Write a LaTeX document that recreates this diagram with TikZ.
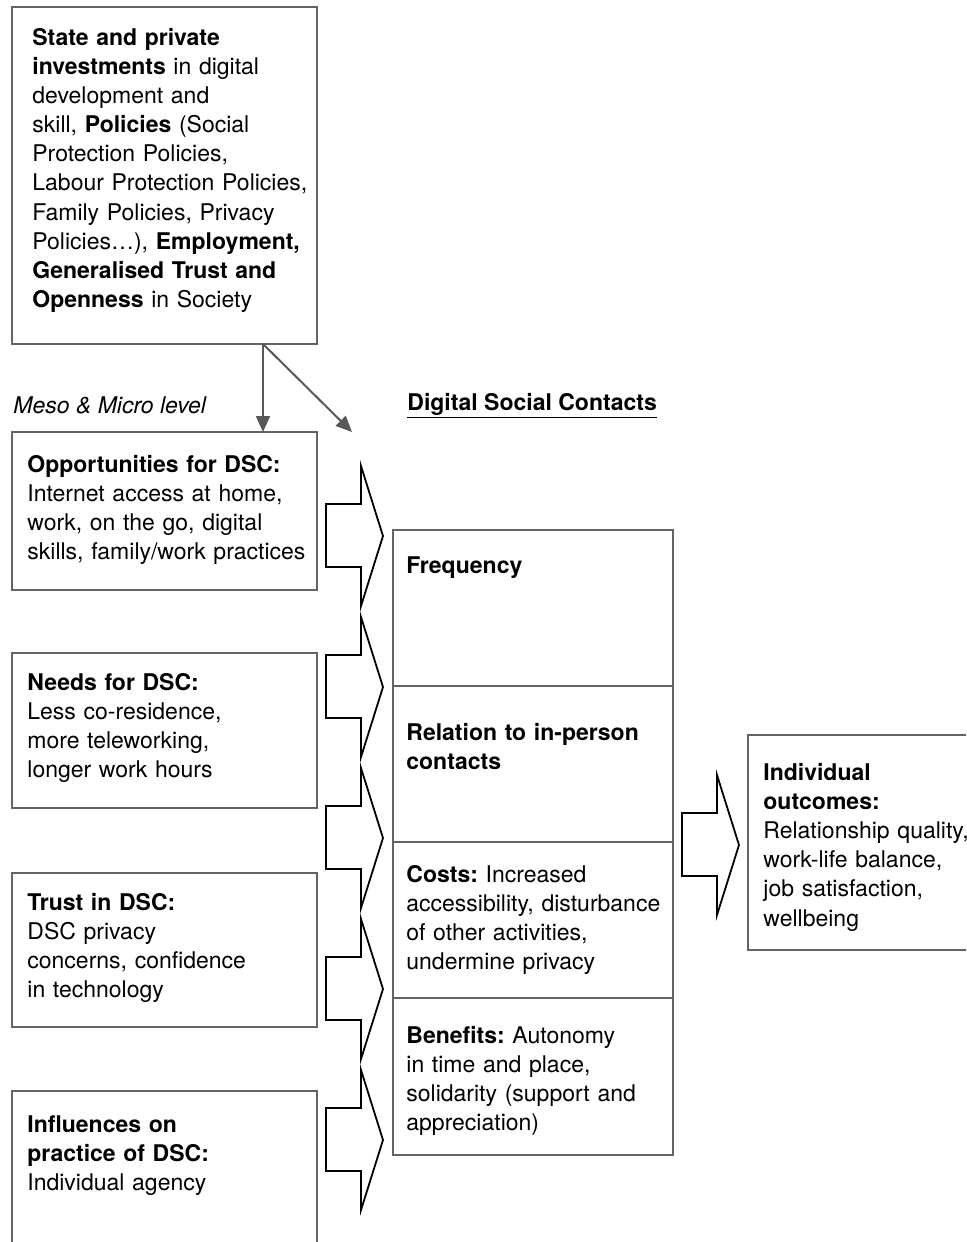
\documentclass[tikz,border=0pt]{standalone}
\usepackage{fontspec}
\setmainfont{TeX Gyre Heros}
\usetikzlibrary{arrows.meta}
\frenchspacing

\definecolor{boxgray}{RGB}{100,100,100}
\definecolor{linkgray}{RGB}{88,88,88}

\tikzset{
  box/.style={draw=boxgray, line width=1.2pt, inner sep=0pt, outer sep=0pt, anchor=north west},
  boxtext/.style={anchor=base west, inner sep=0pt, align=left, text width=#1,
    font=\fontsize{11.5}{14.6}\selectfont},
  boxtext/.default=150pt,
  link/.style={draw=linkgray, line width=1pt, -{Triangle[length=8pt,width=7pt]}},
  fatarrow/.style={draw=black, line width=0.9pt, line join=miter},
}

\begin{document}
\begin{tikzpicture}[x=0.5pt, y=-0.5pt]
\useasboundingbox (0,0) rectangle (966,1242);
\clip (0,0) rectangle (966,1242);

% macro level
\node[box, minimum width=152.5pt, minimum height=168.5pt] (policy) at (12,7) {};
\node[boxtext] (policytext) at (32,45) {\textbf{State and private}\\ \textbf{investments} in digital\\ development and\\ skill, \textbf{Policies} (Social\\ Protection Policies,\\ Labour Protection Policies,\\ Family Policies, Privacy\\ Policies…), \textbf{Employment,}\\ \textbf{Generalised Trust and}\\ \textbf{Openness} in Society};

\node[anchor=base west, inner sep=0pt, font=\fontsize{11.5}{14.6}\selectfont\itshape] (meso) at (13,413) {Meso \& Micro level};
\node[anchor=base west, inner sep=0pt, font=\fontsize{11.5}{14.6}\selectfont\bfseries] (dsc) at (407,410) {\underline{Digital Social Contacts}};

% meso and micro level
\node[box, minimum width=152.5pt, minimum height=79pt] (opp) at (12,432) {};
\node[boxtext] (opptext) at (27,472) {\textbf{Opportunities for DSC:}\\ Internet access at home,\\ work, on the go, digital\\ skills, family/work practices};

\node[box, minimum width=152.5pt, minimum height=77.5pt] (needs) at (12,653) {};
\node[boxtext] (needstext) at (27,690) {\textbf{Needs for DSC:}\\ Less co-residence,\\ more teleworking,\\ longer work hours};

\node[box, minimum width=152.5pt, minimum height=77pt] (trust) at (12,873) {};
\node[boxtext] (trusttext) at (27,910) {\textbf{Trust in DSC:}\\ DSC privacy\\ concerns, confidence\\ in technology};

\node[box, minimum width=152.5pt, minimum height=95pt] (infl) at (12,1091) {};
\node[boxtext] (infltext) at (27,1132) {\textbf{Influences on}\\ \textbf{practice of DSC:}\\ Individual agency};

% digital social contacts
\node[box, minimum width=140pt, minimum height=78pt] (freq) at (393,530) {};
\node[boxtext] (freqtext) at (406,573) {\textbf{Frequency}};

\node[box, minimum width=140pt, minimum height=78pt] (rel) at (393,686) {};
\node[boxtext] (reltext) at (406,740) {\textbf{Relation to in-person}\\ \textbf{contacts}};

\node[box, minimum width=140pt, minimum height=78pt] (costs) at (393,842) {};
\node[boxtext] (coststext) at (406,882) {\textbf{Costs:} Increased\\ accessibility, disturbance\\ of other activities,\\ undermine privacy};

\node[box, minimum width=140pt, minimum height=78.5pt] (benef) at (393,998) {};
\node[boxtext] (beneftext) at (406,1043) {\textbf{Benefits:} Autonomy\\ in time and place,\\ solidarity (support and\\ appreciation)};

% outcomes
\node[box, minimum width=120pt, minimum height=107.5pt] (outcome) at (748,735) {};
\node[boxtext] (outcometext) at (763,780) {\textbf{Individual}\\ \textbf{outcomes:}\\ Relationship quality,\\ work-life balance,\\ job satisfaction,\\ wellbeing};

% links from the macro level
\coordinate (fork) at (263,344);
\coordinate (dsctip) at (352,432);
\draw[link] (fork) -- (fork |- opp.north);
\draw[link] (fork) -- (dsctip);

% block arrows
\foreach \tx/\ty in {383/536,383/687,383/838,383/989,383/1140,739/845}
  \draw[fatarrow] (\tx-57,\ty-32) -- (\tx-22,\ty-32) -- (\tx-22,\ty-70) -- (\tx,\ty)
    -- (\tx-22,\ty+70) -- (\tx-22,\ty+31) -- (\tx-57,\ty+31) -- cycle;
\end{tikzpicture}
\end{document}
